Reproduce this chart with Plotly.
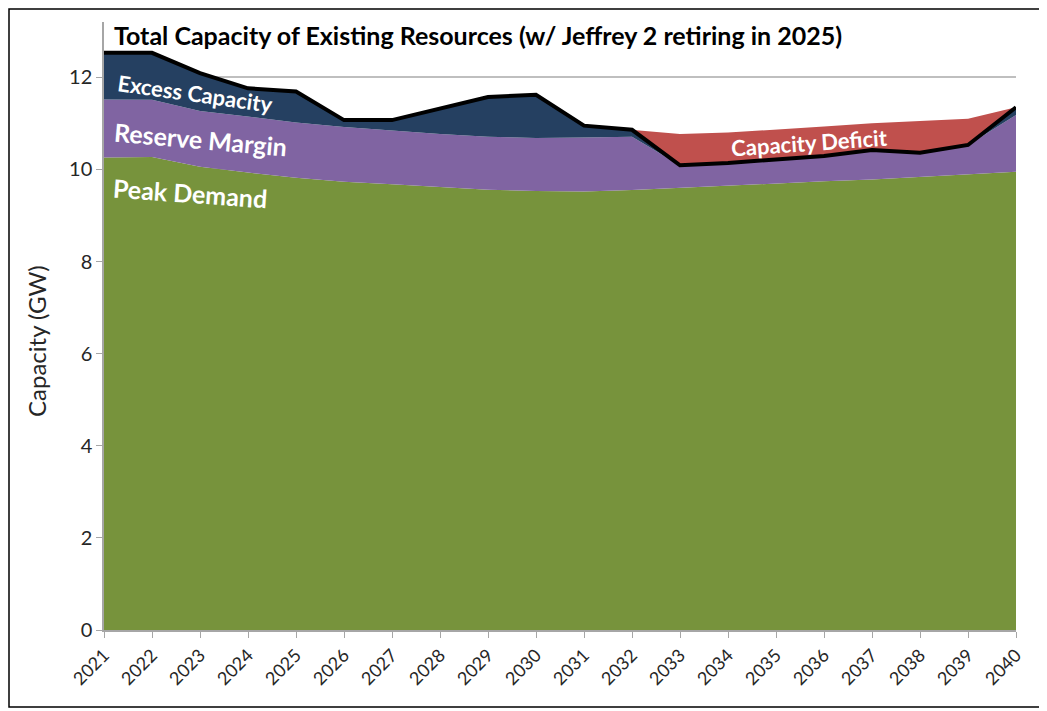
import plotly.graph_objects as go

years = list(range(2021, 2041))
peak_demand = [10.26, 10.27, 10.06, 9.93, 9.82, 9.73, 9.68, 9.62, 9.56, 9.53,
               9.52, 9.55, 9.60, 9.64, 9.69, 9.74, 9.78, 9.84, 9.90, 9.95]
reserve_margin = [1.26, 1.24, 1.21, 1.22, 1.20, 1.19, 1.16, 1.15, 1.15, 1.15,
                  1.17, 1.16, 0.49, 0.50, 0.53, 0.55, 0.64, 0.52, 0.63, 1.23]
excess_capacity = [1.01, 1.02, 0.82, 0.61, 0.67, 0.15, 0.23, 0.56, 0.86, 0.94,
                   0.26, 0.15, 0, 0, 0, 0, 0, 0, 0, 0.17]
capacity_deficit = [0, 0, 0, 0, 0, 0, 0, 0, 0, 0,
                    0, 0, 0.68, 0.66, 0.64, 0.64, 0.58, 0.69, 0.57, 0]
total_capacity = [12.53, 12.53, 12.09, 11.76, 11.69, 11.07, 11.07, 11.33, 11.57, 11.62,
                  10.95, 10.86, 10.09, 10.14, 10.22, 10.29, 10.42, 10.36, 10.53, 11.35]

colors = {"Peak Demand": "#77933C", "Reserve Margin": "#8064A2",
          "Excess Capacity": "#254061", "Capacity Deficit": "#C0504D"}

fig = go.Figure()
for name, vals in [("Peak Demand", peak_demand), ("Reserve Margin", reserve_margin),
                   ("Excess Capacity", excess_capacity), ("Capacity Deficit", capacity_deficit)]:
    fig.add_trace(go.Scatter(x=years, y=vals, name=name, stackgroup="one", mode="lines",
                             line=dict(width=0, color=colors[name]), fillcolor=colors[name]))
fig.add_trace(go.Scatter(x=years, y=total_capacity, name="Total Capacity", mode="lines",
                         line=dict(color="black", width=4)))

font = "Lato"
# plot area in page pixels: x 104..1016, y 22..630 (figure offset by 8px body margin)
W, H = 912, 608
ann = [
    ("Excess Capacity", 2022.9, 11.64, 8, 22),
    ("Reserve Margin", 2023.0, 10.66, 5, 25),
    ("Peak Demand", 2022.8, 9.49, 4, 25),
    ("Capacity Deficit", 2035.7, 10.59, -4, 22),
]
annotations = [dict(x=x, y=y, xref="x", yref="y", text=f"<b>{t}</b>", showarrow=False,
                    textangle=a, font=dict(family=font, size=s, color="white"))
               for t, x, y, a, s in ann]
annotations.append(dict(x=(112 - 104) / W, y=1 - (35 - 22) / H, xref="paper", yref="paper",
                        xanchor="left", yanchor="middle",
                        text="<b>Total Capacity of Existing Resources (w/ Jeffrey 2 retiring in 2025)</b>",
                        showarrow=False, font=dict(family=font, size=25, color="black")))
annotations.append(dict(x=(36 - 104) / W, y=1 - (341 - 22) / H, xref="paper", yref="paper",
                        xanchor="center", yanchor="middle", textangle=-90,
                        text="Capacity (GW)", showarrow=False,
                        font=dict(family=font, size=24, color="#262626")))

fig.update_layout(
    width=1039, height=703,
    margin=dict(l=96, r=31, t=14, b=81),
    paper_bgcolor="white", plot_bgcolor="white",
    showlegend=False,
    annotations=annotations,
    font=dict(family=font, color="#262626"),
    shapes=[dict(type="rect", xref="paper", yref="paper",
                 x0=-95 / W, x1=(1041 - 104) / W, y0=-(707 - 630) / H, y1=1 + 13 / H,
                 line=dict(color="black", width=1.5), fillcolor="rgba(0,0,0,0)", layer="above")],
)
fig.update_xaxes(range=[2021, 2040], tickmode="array", tickvals=years,
                 ticktext=[str(y) for y in years], tickangle=-45,
                 tickfont=dict(size=18, color="#262626"),
                 showgrid=False, showline=True, linecolor="#A6A6A6", linewidth=1.5,
                 ticks="outside", ticklen=6, tickcolor="#A6A6A6", zeroline=False)
fig.update_yaxes(range=[0, 13.2], tickmode="array", tickvals=[0, 2, 4, 6, 8, 10, 12],
                 tickfont=dict(size=20, color="#262626"),
                 showgrid=True, gridcolor="#BFBFBF", gridwidth=1.5,
                 showline=True, linecolor="#A6A6A6", linewidth=1.5,
                 ticks="outside", ticklen=6, tickcolor="#A6A6A6", zeroline=False)

fig.write_html("out.html")
